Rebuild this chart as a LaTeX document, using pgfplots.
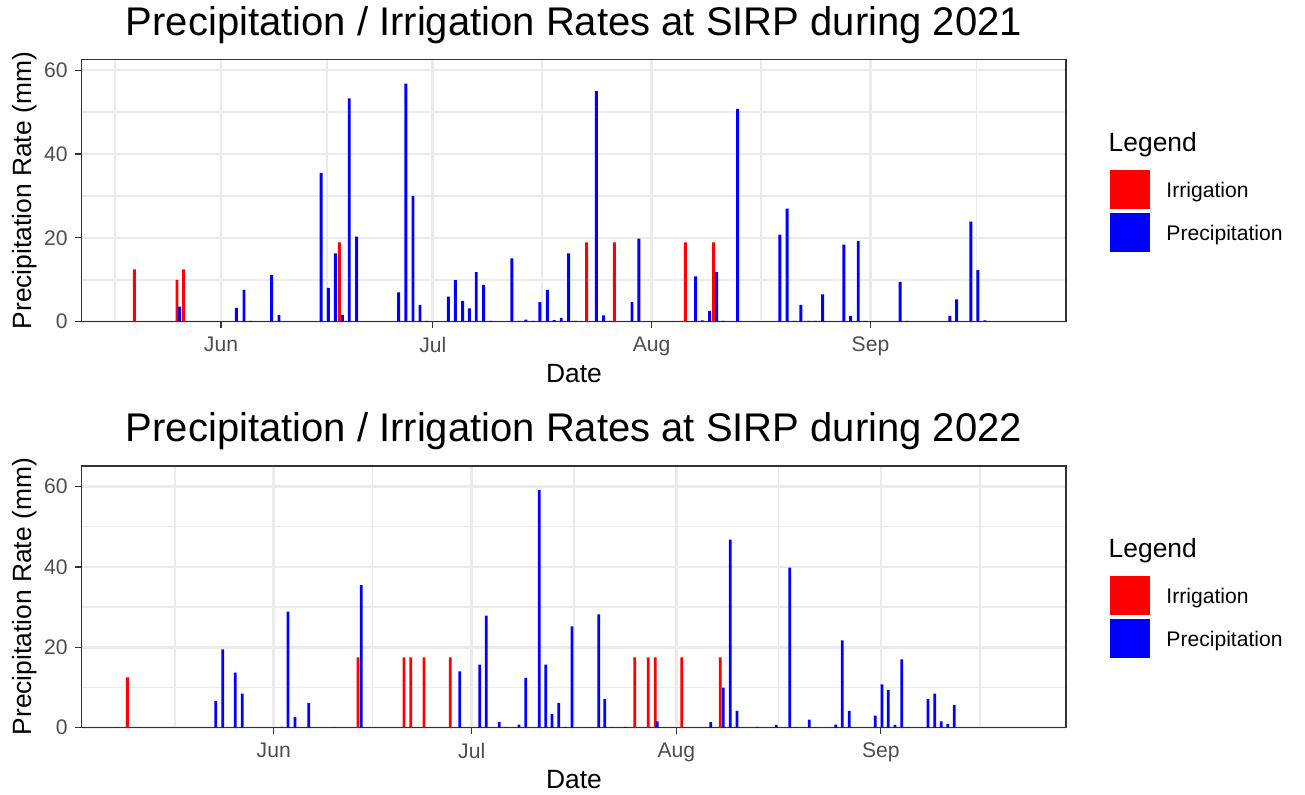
\documentclass[border=0pt]{standalone}
\usepackage{fontspec}
\setmainfont{Liberation Sans}
\usepackage{pgfplots}
\usepackage{pgfplotstable}
\pgfplotsset{compat=1.18}
\definecolor{gridc}{HTML}{EBEBEB}
\definecolor{axc}{HTML}{333333}
\definecolor{tickc}{HTML}{4D4D4D}
\definecolor{irr}{HTML}{FF0000}
\definecolor{pre}{HTML}{0000FF}

\pgfplotstableread{
x y
146.15 3.6
154.17 3.3
155.26 7.6
156.2 0.2
159.18 11.1
160.22 1.6
166.2 35.5
167.2 8.1
168.19 16.3
169.18 1.6
170.17 53.3
171.22 20.3
177.17 7.0
178.2 56.8
179.2 30.0
180.19 4.0
181.14 0.2
184.2 6.0
185.19 9.9
186.24 5.0
187.17 3.2
188.16 11.8
189.21 8.8
190.2 0.2
193.22 15.1
194.25 0.2
195.2 0.5
196.24 0.2
197.18 4.7
198.22 7.6
199.2 0.4
200.2 0.9
201.25 16.3
202.24 0.2
205.16 55.0
206.2 1.5
207.2 0.2
210.22 4.7
211.21 19.8
219.24 10.8
220.17 0.3
221.22 2.6
222.21 11.8
223.15 0.2
225.19 50.8
231.18 20.8
232.21 27.0
233.2 0.2
234.15 4.0
235.2 0.2
236.2 0.2
237.23 6.5
240.24 18.4
241.19 1.4
242.27 19.2
243.2 0.2
248.2 9.5
249.2 0.2
255.26 1.4
256.2 5.3
258.23 23.9
259.2 12.3
260.2 0.3
}\preA

\pgfplotstableread{
x y
139.72 12.5
145.77 10.0
146.72 12.5
168.76 18.9
203.8 18.9
207.71 18.9
217.77 18.9
221.79 18.9
}\irrA

\pgfplotstableread{
x y
143.21 6.6
144.27 19.5
146.18 13.7
147.24 8.5
153.26 0.2
154.17 28.9
155.23 2.7
157.3 6.1
161.29 0.1
165.27 35.5
180.18 14.0
183.21 15.7
184.21 27.9
186.18 1.4
187.2 0.1
189.17 0.8
190.18 12.4
192.24 59.1
193.21 15.7
194.17 3.4
195.18 6.2
196.18 0.2
197.2 25.2
200.23 0.1
201.24 28.2
202.15 7.1
203.2 0.1
205.27 0.2
210.12 1.6
218.21 1.4
220.12 10.0
221.18 46.8
222.2 4.2
225.18 0.2
228.15 0.7
230.18 39.8
231.2 0.1
233.15 2.0
234.2 0.1
237.15 0.8
238.15 21.7
239.21 4.2
243.15 3.0
244.17 10.8
245.12 9.4
246.14 0.7
247.15 17.0
248.2 0.1
251.14 7.1
252.15 8.5
253.15 1.6
254.12 0.9
255.12 5.6
}\preB

\pgfplotstableread{
x y
129.82 12.5
164.77 17.5
171.74 17.5
172.76 17.5
174.77 17.5
178.76 17.5
206.7 17.5
208.76 17.5
209.82 17.5
213.82 17.5
219.67 17.5
}\irrB

\pgfplotsset{
  sirp/.style={
    scale only axis,
    anchor=south west,
    width=492.15pt,
    ymin=0,
    axis line style={draw=axc, line width=0.65pt},
    xtick={152,182,213,244},
    xticklabels={Jun,Jul,Aug,Sep},
    minor xtick={137,167,197.5,228.5,259},
    ytick={0,20,40,60},
    minor ytick={10,30,50},
    grid=both,
    major grid style={draw=gridc, line width=1.3pt},
    minor grid style={draw=gridc, line width=0.75pt},
    tick align=outside,
    major tick length=3.3pt,
    minor tick length=0pt,
    tick style={draw=axc, line width=0.6pt},
    xtick pos=bottom, ytick pos=left,
    /pgf/number format/assume math mode=true,
    ticklabel style={font=\fontsize{10.56}{12}\selectfont, text=tickc},
    xticklabel style={anchor=north, inner sep=0pt, yshift=-4.2pt},
    yticklabel style={anchor=east, inner sep=0pt, xshift=-3.5pt},
  },
  barI/.style={ybar, bar shift=0pt, bar width=0.42, fill=irr, draw=none},
  barP/.style={ybar, bar shift=0pt, bar width=0.42, fill=pre, draw=none},
}

\begin{document}
\begin{tikzpicture}
\useasboundingbox (0pt,0pt) rectangle (652.5pt,-397pt);

% ---------- 2021 ----------
\begin{axis}[sirp, at={(40.85pt,-160.85pt)}, height=131pt,
  xmin=132.27, xmax=271.7, ymax=62.5]
\addplot[barI] table[x=x,y=y] {\irrA};
\addplot[barP] table[x=x,y=y] {\preA};
\end{axis}

\node[anchor=base, font=\fontsize{20}{22}\selectfont] at (286.95pt,-17.5pt)
  {Precipitation / Irrigation Rates at SIRP during 2021};
\node[anchor=base, font=\fontsize{13.2}{15}\selectfont] at (286.95pt,-191.15pt) {Date};
\node[anchor=base, rotate=90, font=\fontsize{13.2}{15}\selectfont] at (15.75pt,-95.35pt)
  {Precipitation Rate (mm)};
\node[anchor=base west, inner sep=0pt, font=\fontsize{13.2}{15}\selectfont] at (554.15pt,-75.85pt) {Legend};
\fill[irr] (555pt,-84.75pt) rectangle (574.75pt,-104.25pt);
\fill[pre] (555pt,-106.25pt) rectangle (574.75pt,-126pt);
\node[anchor=base west, inner sep=0pt, font=\fontsize{10.56}{12}\selectfont] at (583pt,-98.65pt) {Irrigation};
\node[anchor=base west, inner sep=0pt, font=\fontsize{10.56}{12}\selectfont] at (583pt,-120pt) {Precipitation};

% ---------- 2022 ----------
\begin{axis}[sirp, at={(40.85pt,-363.85pt)}, height=130.85pt,
  xmin=122.9, xmax=272.05, ymax=65.1]
\addplot[barI] table[x=x,y=y] {\irrB};
\addplot[barP] table[x=x,y=y] {\preB};
\end{axis}

\node[anchor=base, font=\fontsize{20}{22}\selectfont] at (286.95pt,-220.5pt)
  {Precipitation / Irrigation Rates at SIRP during 2022};
\node[anchor=base, font=\fontsize{13.2}{15}\selectfont] at (286.95pt,-394.15pt) {Date};
\node[anchor=base, rotate=90, font=\fontsize{13.2}{15}\selectfont] at (15.75pt,-298.35pt)
  {Precipitation Rate (mm)};
\node[anchor=base west, inner sep=0pt, font=\fontsize{13.2}{15}\selectfont] at (554.15pt,-278.85pt) {Legend};
\fill[irr] (555pt,-287.75pt) rectangle (574.75pt,-307.25pt);
\fill[pre] (555pt,-309.25pt) rectangle (574.75pt,-329pt);
\node[anchor=base west, inner sep=0pt, font=\fontsize{10.56}{12}\selectfont] at (583pt,-301.65pt) {Irrigation};
\node[anchor=base west, inner sep=0pt, font=\fontsize{10.56}{12}\selectfont] at (583pt,-323pt) {Precipitation};
\end{tikzpicture}
\end{document}
